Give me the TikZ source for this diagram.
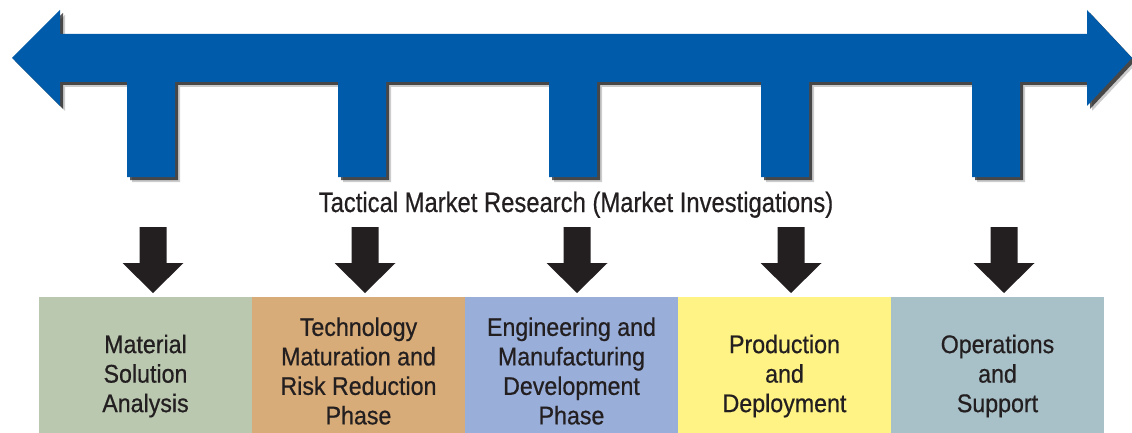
\documentclass[tikz,border=0pt]{standalone}
\usepackage{fontspec}
\setmainfont{Liberation Sans}
\newfontfamily\titlefont[FakeStretch=0.85,FakeBold=0.5]{Liberation Sans}
\newfontfamily\phasefont[FakeStretch=0.91,FakeBold=0.6]{Liberation Sans}
\usetikzlibrary{shadows}

\definecolor{bandblue}{HTML}{005BAA}
\definecolor{inkblack}{HTML}{231F20}
\definecolor{msagreen}{HTML}{BBC8B0}
\definecolor{tmrrtan}{HTML}{D8AC78}
\definecolor{emdblue}{HTML}{99AED8}
\definecolor{pdyellow}{HTML}{FFF385}
\definecolor{osgrey}{HTML}{A8C0C8}

\tikzset{
    phasebox/.style={minimum width=213,minimum height=136,inner sep=0},
    phasetext/.style={align=center,inner sep=0,text=inkblack,font=\phasefont\fontsize{25.5}{29.5}\selectfont}
}

\begin{document}
\begin{tikzpicture}[x=1pt,y=-1pt]
    \useasboundingbox (0,0) rectangle (1132,433);

        % timeline band with legs
        \fill[bandblue,
              drop shadow={shadow xshift=5pt,shadow yshift=-5pt,opacity=.2,fill=black},
              drop shadow={shadow xshift=3pt,shadow yshift=-3pt,opacity=.65,fill=black}]
            (12,58) -- (60,10) -- (60,34) -- (1087,34) -- (1087,10) -- (1132,58)
            -- (1087,106) -- (1087,82)
            foreach \lx in {972,761,549,338,127} {
                -- (\lx+48,82) -- (\lx+48,177) -- (\lx,177) -- (\lx,82)
            }
            -- (60,82) -- (60,106) -- cycle;

        \node[anchor=base,text=inkblack,font=\titlefont\fontsize{28}{32}\selectfont] (research) at (576,212)
            {Tactical Market Research (Market Investigations)};

        \node[phasebox,fill=msagreen] (msa) at (145.5,365) {};
        \node[phasebox,fill=tmrrtan] (tmrr) at (358.5,365) {};
        \node[phasebox,fill=emdblue] (emd) at (571.5,365) {};
        \node[phasebox,fill=pdyellow] (pd) at (784.5,365) {};
        \node[phasebox,fill=osgrey] (os) at (997.5,365) {};

        \node[phasetext] (msa label) at ([yshift=-11pt]msa.center) {Material\\Solution\\Analysis};
        \node[phasetext] (tmrr label) at ([yshift=-6pt]tmrr.center) {Technology\\Maturation and\\Risk Reduction\\Phase};
        \node[phasetext] (emd label) at ([yshift=-6pt]emd.center) {Engineering and\\Manufacturing\\Development\\Phase};
        \node[phasetext] (pd label) at ([yshift=-11pt]pd.center) {Production\\and\\Deployment};
        \node[phasetext] (os label) at ([yshift=-11pt]os.center) {Operations\\and\\Support};

        % down arrows
        \foreach \ax in {153,365,577,791,1004} {
            \fill[inkblack] (\ax-13.5,227) -- (\ax+13.5,227) -- (\ax+13.5,263) -- (\ax+30.5,263)
                -- (\ax,293) -- (\ax-30.5,263) -- (\ax-13.5,263) -- cycle;
        }

    \end{tikzpicture}
\end{document}
